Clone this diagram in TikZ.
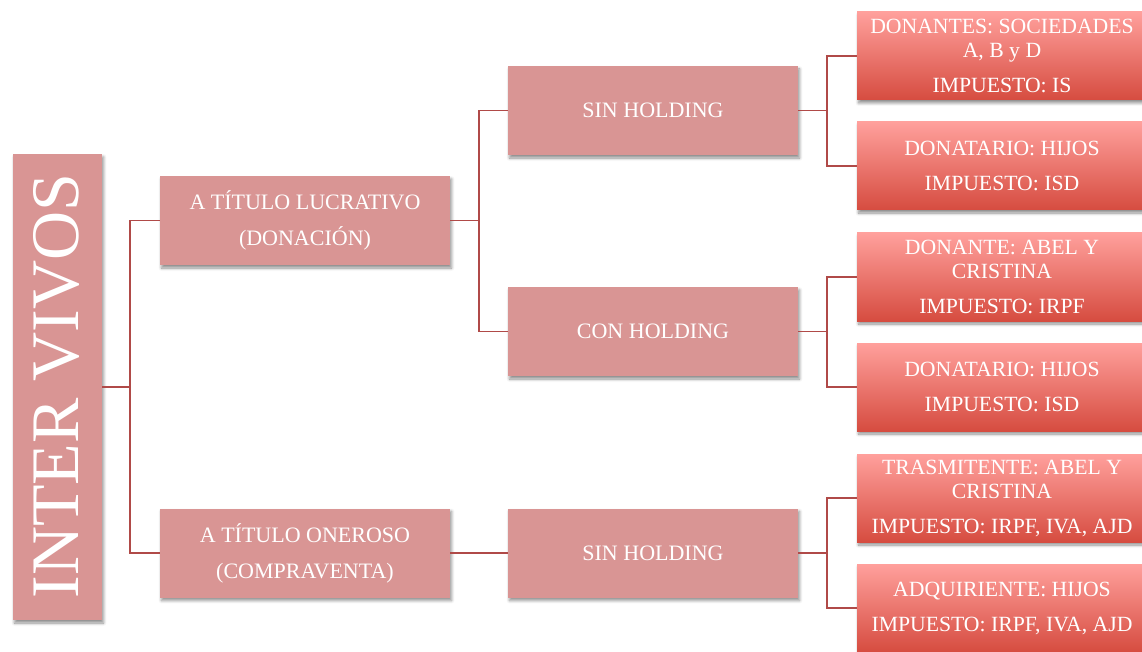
\documentclass[tikz,border=0pt]{standalone}
\usepackage{fontspec}
\setmainfont{Liberation Serif}
\usetikzlibrary{shadows.blur}
\definecolor{boxc}{RGB}{217,149,148}
\definecolor{linec}{RGB}{176,74,72}
\definecolor{leaftop}{RGB}{255,160,156}
\definecolor{leafbot}{RGB}{214,76,64}
\tikzset{
  shad/.style={blur shadow={shadow xshift=1.5pt, shadow yshift=-3pt, shadow blur steps=6, shadow opacity=45, shadow blur radius=3pt}},
  midbox/.style={shad, fill=boxc, minimum width=290pt, minimum height=89pt, inner sep=0pt, text=white, align=center, font=\fontsize{22}{25}\selectfont},
  leafbox/.style={shad, top color=leaftop, bottom color=leafbot, minimum width=290pt, minimum height=88pt, inner sep=0pt, text=white, align=center, font=\fontsize{21.7}{24}\selectfont},
  conn/.style={draw=linec, line width=1.8pt}
}
\begin{document}
\begin{tikzpicture}[x=1pt,y=-1pt]
\useasboundingbox (0,0) rectangle (1142,652);
\node[shad, fill=boxc, minimum width=89pt, minimum height=466pt, inner sep=0pt] (iv) at (57.5,387) {};
\node[text=white, rotate=90, font=\fontsize{68}{70}\selectfont, inner sep=0pt] (ivt) at (57,386) {INTER VIVOS};
\node[midbox] (luc) at (305,220.5) {A TÍTULO LUCRATIVO\\[11pt](DONACIÓN)};
\node[midbox] (one) at (305,553) {A TÍTULO ONEROSO\\[11pt](COMPRAVENTA)};
\node[midbox] (sh1) at (653,110.5) {SIN HOLDING};
\node[midbox] (ch) at (653,331.5) {CON HOLDING};
\node[midbox] (sh2) at (653,553) {SIN HOLDING};
\node[leafbox] (l1) at (1002,56) {DONANTES: SOCIEDADES\\A, B y D\\[11pt]IMPUESTO: IS};
\node[leafbox] (l2) at (1002,166) {DONATARIO: HIJOS\\[11pt]IMPUESTO: ISD};
\node[leafbox] (l3) at (1002,277) {DONANTE: ABEL Y\\CRISTINA\\[11pt]IMPUESTO: IRPF};
\node[leafbox] (l4) at (1002,387) {DONATARIO: HIJOS\\[11pt]IMPUESTO: ISD};
\node[leafbox] (l5) at (1002,498) {TRASMITENTE: ABEL Y\\CRISTINA\\[11pt]IMPUESTO: IRPF, IVA, AJD};
\node[leafbox] (l6) at (1002,608) {ADQUIRIENTE: HIJOS\\[11pt]IMPUESTO: IRPF, IVA, AJD};
\coordinate (j0) at (130,387);
\coordinate (j1) at (479,220.5);
\coordinate (j2) at (827,110.5);
\coordinate (j3) at (827,331.5);
\coordinate (j4) at (827,553);
\draw[conn] (iv.east) -- (j0);
\draw[conn] (j0) |- (luc.west);
\draw[conn] (j0) |- (one.west);
\draw[conn] (luc.east) -- (j1);
\draw[conn] (j1) |- (sh1.west);
\draw[conn] (j1) |- (ch.west);
\draw[conn] (one.east) -- (sh2.west);
\draw[conn] (sh1.east) -- (j2);
\draw[conn] (j2) |- (l1.west);
\draw[conn] (j2) |- (l2.west);
\draw[conn] (ch.east) -- (j3);
\draw[conn] (j3) |- (l3.west);
\draw[conn] (j3) |- (l4.west);
\draw[conn] (sh2.east) -- (j4);
\draw[conn] (j4) |- (l5.west);
\draw[conn] (j4) |- (l6.west);
\end{tikzpicture}
\end{document}
